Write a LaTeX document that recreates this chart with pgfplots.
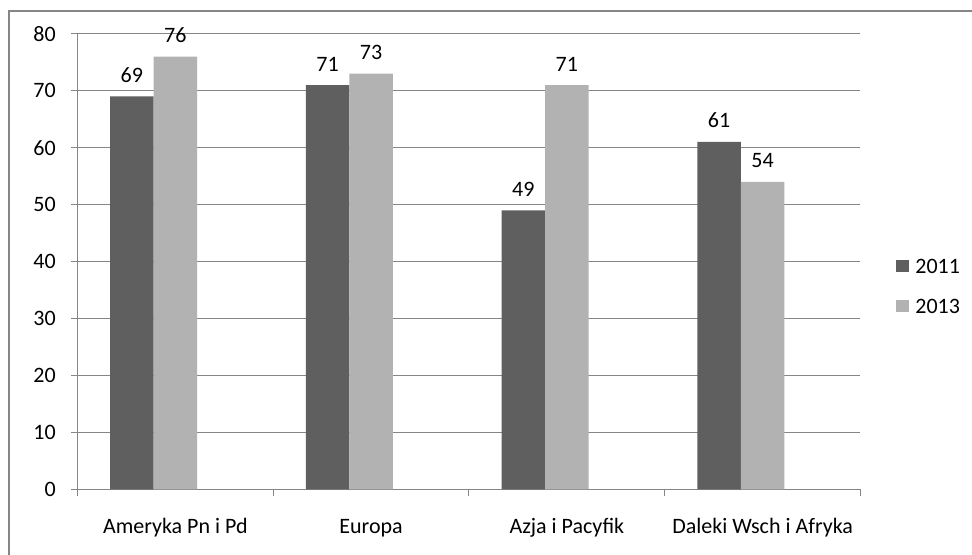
\documentclass[border=0pt]{standalone}
\usepackage{fontspec}
\setmainfont{Carlito}
\usepackage{pgfplots}
\pgfplotsset{compat=1.18}
\definecolor{c2011}{HTML}{5F5F5F}
\definecolor{c2013}{HTML}{B2B2B2}
\definecolor{gridc}{HTML}{868686}
\begin{document}
\begin{tikzpicture}[font=\fontsize{16.5pt}{19.8pt}\selectfont]
\useasboundingbox (0,0) rectangle (729pt,416.25pt);
\draw[gridc, line width=1.5pt] (6.4pt,-5pt) -- (6.4pt,408pt) -- (740pt,408pt);
\begin{axis}[
  at={(58.1pt,49.3pt)}, anchor=south west,
  scale only axis, width=587.25pt, height=341.6pt,
  ybar, bar width=32.6pt,
  xmin=-0.5, xmax=3.5, ymin=0, ymax=80,
  xtick={0,1,2,3},
  xticklabels={Ameryka Pn i Pd, Europa, Azja i Pacyfik, Daleki Wsch i Afryka},
  xtick style={draw=none},
  extra x ticks={-0.5,0.5,1.5,2.5,3.5},
  extra x tick labels={},
  extra x tick style={xtick style={draw=gridc, line width=0.75pt}, major tick length=5.25pt},
  ytick={0,10,...,80},
  ymajorgrids, grid style={gridc, line width=0.75pt},
  tick align=outside, major tick length=4.5pt,
  ytick style={draw=gridc, line width=0.75pt},
  axis x line*=bottom, axis y line*=left,
  axis line style={gridc, line width=0.75pt, -},
  /pgf/number format/assume math mode=true,
  yticklabel style={anchor=east, inner sep=0pt, xshift=-11.6pt},
  xticklabel style={anchor=base, inner sep=0pt, yshift=-28.5pt},
  nodes near coords,
  nodes near coords style={anchor=base, inner sep=0pt, yshift=10.5pt, black},
  legend style={draw=none, fill=none, at={(axis description cs:1.0453,0.508)}, anchor=north west,
    inner sep=0pt, row sep=18.5pt, column sep=5pt,
    nodes={inner sep=0pt, text height=11.5pt, text depth=0pt}},
  legend cell align=left,
  legend image code/.code={\path[#1, draw=none] (0pt,-4.7pt) rectangle (9.4pt,4.7pt);},
]
\addplot[fill=c2011, draw=none, bar shift=-32.6pt] coordinates {(0,69) (1,71) (2,49) (3,61)};
\addplot[fill=c2013, draw=none, bar shift=0pt] coordinates {(0,76) (1,73) (2,71) (3,54)};
\legend{2011,2013}
\end{axis}
\end{tikzpicture}
\end{document}
